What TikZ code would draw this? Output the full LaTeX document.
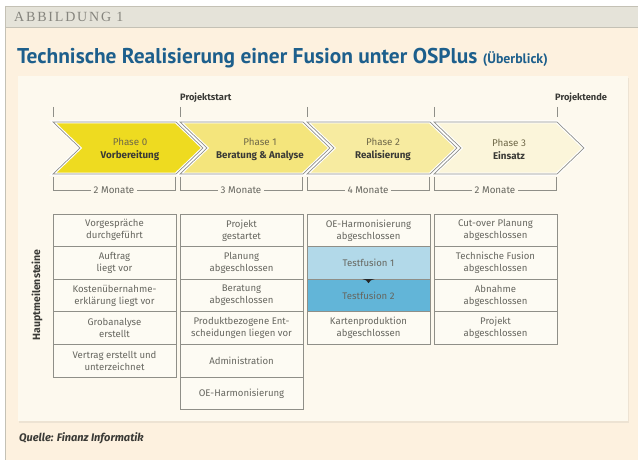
\documentclass[tikz,border=0pt]{standalone}
\usepackage{fontspec}
\setmainfont{Fira Sans}
\newfontfamily\capsfont[LetterSpace=13]{Liberation Serif}
\newfontfamily\titlefont{PT Sans}
\usetikzlibrary{shadows,calc}

\definecolor{pagebg}{HTML}{FDF1DF}
\definecolor{panelbg}{HTML}{FDF9EE}
\definecolor{boxbg}{HTML}{FDFBF3}
\definecolor{headbg}{HTML}{E5E3D9}
\definecolor{headline}{HTML}{C4C1B5}
\definecolor{headtext}{HTML}{85847D}
\definecolor{titleblue}{HTML}{1D5F8C}
\definecolor{phzero}{HTML}{EEDB20}
\definecolor{phone}{HTML}{F4E57C}
\definecolor{phtwo}{HTML}{F7EBA0}
\definecolor{phthree}{HTML}{FBF5DA}
\definecolor{rulegray}{HTML}{8F8F88}
\definecolor{boxtext}{HTML}{66665F}
\definecolor{darktext}{HTML}{3A3A36}
\definecolor{phasetext}{HTML}{6F6848}
\definecolor{tfone}{HTML}{B2D9E9}
\definecolor{tftwo}{HTML}{62B5D8}

\tikzset{
  mbox/.style={draw=rulegray, line width=0.8pt, fill=boxbg, anchor=north west,
    minimum width=123pt, minimum height=32.6pt, inner sep=1pt, outer sep=0pt,
    align=center, text=boxtext, font=\fontsize{9.6}{12}\selectfont},
  phaselabel/.style={align=center, inner sep=0pt, text=darktext,
    font=\fontsize{9.8}{13}\selectfont},
  months/.style={fill=panelbg, inner xsep=3pt, inner ysep=1pt, text=boxtext,
    font=\fontsize{9.8}{10}\selectfont},
  marker/.style={rulegray, line width=0.8pt},
  boldlabel/.style={inner sep=0pt, text=darktext, font=\bfseries\fontsize{9.3}{10}\selectfont}
}

\begin{document}
\begin{tikzpicture}[x=1pt,y=-1pt]
\useasboundingbox (0,0) rectangle (638,460);

% page, header strip and left rule
\fill[white] (0,0) rectangle (638,460);
\fill[pagebg] (5,6) rectangle (638,460);
\fill[headbg] (5,6) rectangle (638,27);
\draw[headline] (5,6) -- (638,6);
\draw[headline] (5,27) -- (638,27);
\draw[headline, line width=1.2pt] (5.6,6) -- (5.6,460);
\node[anchor=base west, inner sep=0pt, text=headtext,
      font=\capsfont\fontsize{14}{14}\selectfont] (fig) at (14,22) {ABBILDUNG 1};

% title
\node[anchor=base west, inner sep=0pt, text=titleblue,
      font=\titlefont\bfseries\fontsize{21.4}{21.4}\selectfont] (title) at (17,64)
      {Technische Realisierung einer Fusion unter OSPlus {\fontsize{13.8}{13.8}\selectfont(Überblick)}};

% content panel
\fill[panelbg, drop shadow={shadow xshift=1pt, shadow yshift=-2pt, opacity=0.12}]
  (18,76) rectangle (628,421);

% milestones on the time line
\foreach \x in {53,180,307,434,557} \draw[marker] (\x,107) -- (\x,117);
\node[boldlabel, anchor=base west] (start) at (180,101) {Projektstart};
\node[boldlabel, anchor=base west] (end) at (555,101) {Projektende};

% phase chevrons
\foreach \i/\c in {0/phzero,1/phone,2/phtwo,3/phthree} {
  \pgfmathsetmacro\xa{53+127*\i}
  \fill[\c, draw=white, line width=3pt]
    (\xa,122) -- ({\xa+123},122) -- ({\xa+150},148) -- ({\xa+123},174) -- (\xa,174) -- ({\xa+27},148) -- cycle;
  \draw[rulegray, line width=0.7pt, line join=miter]
    (\xa,122) -- ({\xa+123},122) -- ({\xa+150},148) -- ({\xa+123},174) -- (\xa,174) -- ({\xa+27},148) -- cycle;
}
\node[phaselabel] (p0) at (130,149) {\textcolor{phasetext}{Phase 0}\\\textbf{Vorbereitung}};
\node[phaselabel] (p1) at (260,149) {\textcolor{phasetext}{Phase 1}\\\textbf{Beratung \& Analyse}};
\node[phaselabel] (p2) at (383,149) {\textcolor{phasetext}{Phase 2}\\\textbf{Realisierung}};
\node[phaselabel] (p3) at (509,149) {\textcolor{phasetext}{Phase 3}\\\textbf{Einsatz}};

% durations
\foreach \i/\m in {0/2,1/3,2/4,3/2} {
  \pgfmathsetmacro\xa{53+127*\i}
  \draw[marker] (\xa,177) -- (\xa,190) -- ({\xa+122},190) -- ({\xa+122},177);
  \node[months] (d\i) at ({\xa+61},190) {\m\ Monate};
}

% main milestones
\node[boldlabel, rotate=90, font=\bfseries\fontsize{10.5}{10}\selectfont] (hm) at (37,295) {Hauptmeilensteine};

\node[mbox] (a1) at (53,214)   {Vorgespräche\\durchgeführt};
\node[mbox] (a2) at (53,246.6) {Auftrag\\liegt vor};
\node[mbox] (a3) at (53,279.2) {Kostenübernahme-\\erklärung liegt vor};
\node[mbox] (a4) at (53,311.8) {Grobanalyse\\erstellt};
\node[mbox] (a5) at (53,344.4) {Vertrag erstellt und\\unterzeichnet};

\node[mbox] (b1) at (180,214)   {Projekt\\gestartet};
\node[mbox] (b2) at (180,246.6) {Planung\\abgeschlossen};
\node[mbox] (b3) at (180,279.2) {Beratung\\abgeschlossen};
\node[mbox] (b4) at (180,311.8) {Produktbezogene Ent-\\scheidungen liegen vor};
\node[mbox] (b5) at (180,344.4) {Administration};
\node[mbox] (b6) at (180,377)   {OE-Harmonisierung};

\node[mbox] (c1) at (307,214)   {OE-Harmonisierung\\abgeschlossen};
\node[mbox, fill=tfone] (c2) at (307,246.6) {Testfusion 1};
\node[mbox, fill=tftwo] (c3) at (307,279.2) {Testfusion 2};
\node[mbox] (c4) at (307,311.8) {Kartenproduktion\\abgeschlossen};

\node[mbox] (e1) at (434,214)   {Cut-over Planung\\abgeschlossen};
\node[mbox] (e2) at (434,246.6) {Technische Fusion\\abgeschlossen};
\node[mbox] (e3) at (434,279.2) {Abnahme\\abgeschlossen};
\node[mbox] (e4) at (434,311.8) {Projekt\\abgeschlossen};

% hand-over from the first to the second test fusion
\fill[black!85] ($(c2.south)+(-6,0)$) .. controls ($(c2.south)+(-2,1)$) .. ($(c2.south)+(0,4)$)
  .. controls ($(c2.south)+(2,1)$) .. ($(c2.south)+(6,0)$) -- cycle;

% source
\node[anchor=base west, inner sep=0pt, text=darktext,
      font=\bfseries\itshape\fontsize{11}{11}\selectfont] (src) at (19,441) {Quelle: Finanz Informatik};
\end{tikzpicture}
\end{document}
